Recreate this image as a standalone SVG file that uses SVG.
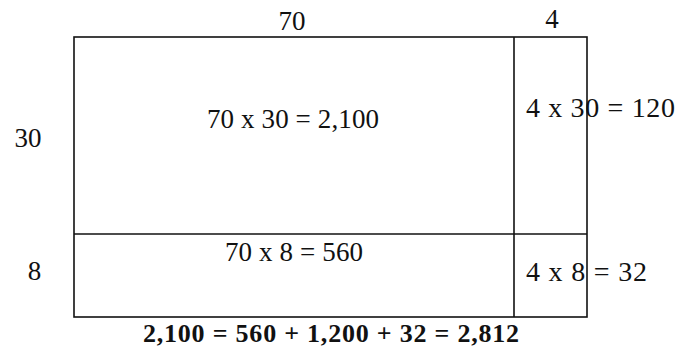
<svg xmlns="http://www.w3.org/2000/svg" width="682" height="348" viewBox="0 0 682 348">
<style>
text{font-family:"Liberation Serif","Times New Roman",serif;fill:#111;font-size:27px}
.l{fill:none;stroke:#111;stroke-width:1.6}
.r{font-size:28px}
.b{font-weight:bold;font-size:26px}
</style>
<rect width="682" height="348" fill="#fff"/>
<g id="connectors">
<rect class="l" x="74" y="37" width="513" height="280"/>
<line class="l" x1="514" y1="37" x2="514" y2="317"/>
<line class="l" x1="74" y1="234" x2="587" y2="234"/>
</g>
<g id="label-70"><text x="292" y="30" text-anchor="middle">70</text></g>
<g id="label-4"><text x="552" y="28" text-anchor="middle">4</text></g>
<g id="label-30"><text x="28" y="147" text-anchor="middle">30</text></g>
<g id="label-8"><text x="34.5" y="280" text-anchor="middle">8</text></g>
<g id="cell-70x30"><text x="207" y="128" textLength="172" lengthAdjust="spacing">70 x 30 = 2,100</text></g>
<g id="cell-70x8"><text x="225" y="261" textLength="138" lengthAdjust="spacing">70 x 8 = 560</text></g>
<g id="cell-4x30"><text class="r" x="526" y="117" textLength="149" lengthAdjust="spacing">4 x 30 = 120</text></g>
<g id="cell-4x8"><text class="r" x="526" y="281" textLength="121" lengthAdjust="spacing">4 x 8 = 32</text></g>
<g id="total"><text class="b" x="143" y="342" textLength="376" lengthAdjust="spacing">2,100 = 560 + 1,200 + 32 = 2,812</text></g>
</svg>
